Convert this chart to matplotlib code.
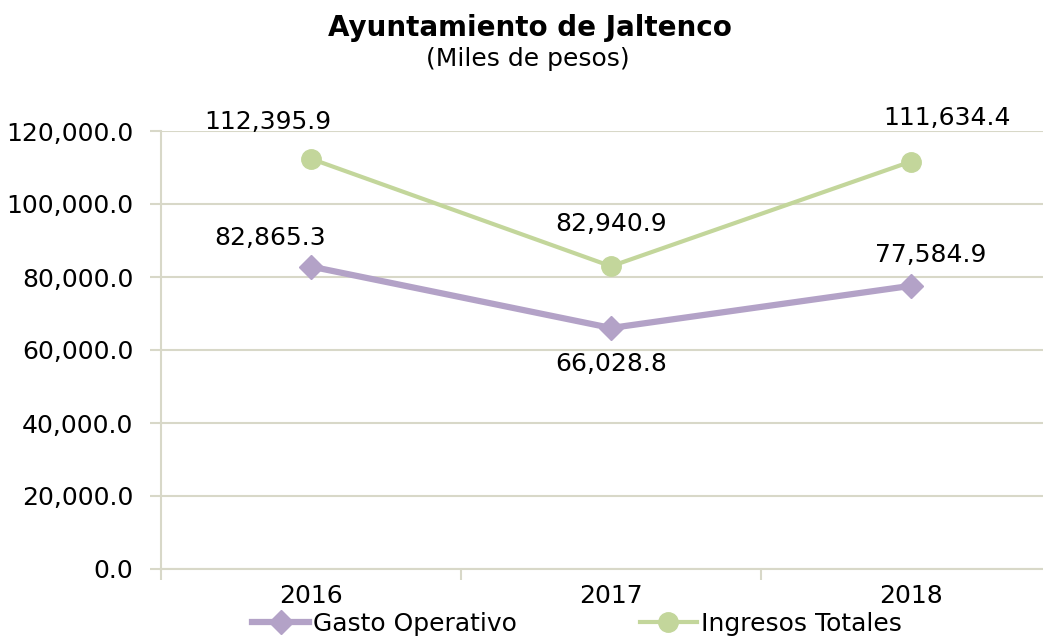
import matplotlib
matplotlib.use("Agg")
import matplotlib.pyplot as plt
from matplotlib.ticker import FuncFormatter

years = ["2016", "2017", "2018"]
gasto = [82865.3, 66028.8, 77584.9]
ingresos = [112395.9, 82940.9, 111634.4]
yticks = [0, 20000, 40000, 60000, 80000, 100000, 120000]

purple = "#b3a2c7"
green = "#c3d69b"
gridc = "#d8d8c8"

plt.rcParams["font.family"] = ["DejaVu Sans"]

fig = plt.figure(figsize=(10.43, 6.37), dpi=100)
ax = fig.add_axes([161 / 1043, 1 - 569 / 637, 900 / 1043, 438 / 637])
x = list(range(len(years)))

ax.plot(x, gasto, color=purple, lw=4.5, marker="D", ms=12, label="Gasto Operativo", zorder=3)
ax.plot(x, ingresos, color=green, lw=3, marker="o", ms=14, label="Ingresos Totales", zorder=3)

ax.set_xlim(-0.5, 2.5)
ax.set_ylim(0, 120000)
ax.set_yticks(yticks)
ax.yaxis.set_major_formatter(FuncFormatter(lambda v, p: f"{v:,.1f}"))
ax.set_xticks([-0.5, 0.5, 1.5, 2.5])
ax.set_xticklabels([])
ax.set_xticks(x, minor=True)
ax.set_xticklabels(years, minor=True)
ax.tick_params(axis="x", which="minor", length=0, pad=11, labelsize=18)
ax.tick_params(axis="x", which="major", length=8, color=gridc, width=1.5)
ax.tick_params(axis="y", length=8, color=gridc, width=1.5, labelsize=18, pad=12)
ax.grid(axis="y", color=gridc, lw=1.5)
ax.set_axisbelow(True)
for s in ["top", "right"]:
    ax.spines[s].set_visible(False)
for s in ["left", "bottom"]:
    ax.spines[s].set_color(gridc)
    ax.spines[s].set_linewidth(1.5)

# data labels (offset in pixels from the point)
ing_off = [(-43, 37), (0, 42), (36, 44)]
gas_off = [(-41, 29), (0, -36), (20, 31)]
for i in x:
    ax.annotate(f"{ingresos[i]:,.1f}", (i, ingresos[i]), xytext=ing_off[i],
                textcoords="offset pixels", ha="center", va="center", fontsize=18)
    ax.annotate(f"{gasto[i]:,.1f}", (i, gasto[i]), xytext=gas_off[i],
                textcoords="offset pixels", ha="center", va="center", fontsize=18)

fig.text(0.508, 1 - 28 / 637, "Ayuntamiento de Jaltenco", ha="center", va="center",
         fontsize=20, fontweight="bold")
fig.text(0.506, 1 - 59 / 637, "(Miles de pesos)", ha="center", va="center", fontsize=18)

fig.legend(loc="center", bbox_to_anchor=(0.553, 1 - 624 / 637), ncol=2, frameon=False,
           fontsize=18, handlelength=2.3, handletextpad=0.15, columnspacing=4.9,
           borderpad=0, borderaxespad=0)

fig.savefig("out.png", dpi=100)
